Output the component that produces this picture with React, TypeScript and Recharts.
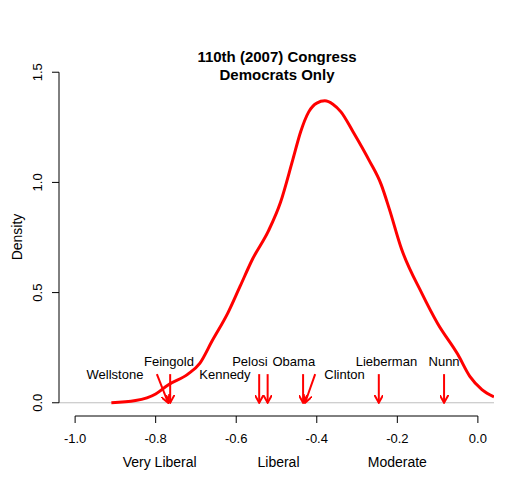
import {
  ComposedChart,
  Line,
  Scatter,
  XAxis,
  YAxis,
  ReferenceLine,
} from "recharts";

// kernel density of DW-NOMINATE scores
const curveX = [-0.91, -0.85, -0.8, -0.77, -0.72, -0.69, -0.66, -0.62, -0.59, -0.56, -0.52, -0.49, -0.46, -0.44, -0.42, -0.4, -0.38, -0.36, -0.34, -0.31, -0.27, -0.24, -0.22, -0.19, -0.14, -0.1, -0.05, -0.02, 0.01, 0.04];
const curveY = [0.0, 0.01, 0.04, 0.08, 0.13, 0.18, 0.28, 0.41, 0.53, 0.65, 0.78, 0.91, 1.1, 1.23, 1.32, 1.36, 1.37, 1.355, 1.32, 1.23, 1.1, 0.99, 0.88, 0.7, 0.5, 0.36, 0.22, 0.12, 0.06, 0.027];

// senators: label position and arrow (tail -> tip)
const names = ["Wellstone", "Feingold", "Kennedy", "Pelosi", "Obama", "Clinton", "Lieberman", "Nunn"];
const labelX = [-0.901, -0.767, -0.628, -0.566, -0.457, -0.331, -0.227, -0.084];
const labelY = [0.13, 0.186, 0.13, 0.186, 0.186, 0.13, 0.186, 0.186];
const arrowFromX = [-0.797, -0.764, -0.543, -0.522, -0.434, -0.404, -0.246, -0.084];
const arrowToX = [-0.769, -0.764, -0.543, -0.522, -0.434, -0.429, -0.246, -0.084];
const arrowTop = 0.13;

const xTicks = [-1, -0.8, -0.6, -0.4, -0.2, 0];
const yTicks = [0, 0.5, 1, 1.5];
const scaleLabels = ["Very Liberal", "Liberal", "Moderate"];
const scaleLabelX = [-0.79, -0.495, -0.2];

const FONT = "'Liberation Sans', Arial, sans-serif";
const RED = "#ff0000";

const curve = curveX.map((x, i) => ({ x, y: curveY[i] }));
const labels = names.map((name, i) => ({ name, x: labelX[i], y: labelY[i] }));
const arrows = names.map((name, i) => [
  { x: arrowFromX[i], y: arrowTop },
  { x: arrowToX[i], y: 0 },
]);

const XTick = (props: any) => {
  const { x, y, payload } = props;
  return (
    <text x={x} y={y} dy={18} textAnchor="middle" fontSize={13} fontFamily={FONT} fill="#000">
      {payload.value.toFixed(1)}
    </text>
  );
};

const DescTick = (props: any) => {
  const { x, y, payload } = props;
  const i = scaleLabelX.indexOf(payload.value);
  return (
    <text x={x} y={y} dy={13} textAnchor="middle" fontSize={14} fontFamily={FONT} fill="#000">
      {scaleLabels[i]}
    </text>
  );
};

const YTick = (props: any) => {
  const { x, y, payload } = props;
  const tx = x - 12;
  return (
    <text
      x={tx}
      y={y}
      transform={`rotate(-90, ${tx}, ${y})`}
      textAnchor="middle"
      dominantBaseline="central"
      fontSize={13}
      fontFamily={FONT}
      fill="#000"
    >
      {payload.value.toFixed(1)}
    </text>
  );
};

const NameLabel = (props: any) => (
  <text
    x={props.cx}
    y={props.cy}
    textAnchor="middle"
    dominantBaseline="central"
    fontSize={13}
    fontFamily={FONT}
    fill="#000"
  >
    {props.payload.name}
  </text>
);

export default function App() {
  return (
    <div style={{ position: "absolute", left: 0, top: 0, width: 525, height: 489, background: "#fff" }}>
      <svg width={0} height={0} style={{ position: "absolute" }}>
        <defs>
          <marker
            id="arrowHead"
            viewBox="0 0 10 10"
            refX={9}
            refY={5}
            markerWidth={9}
            markerHeight={9}
            markerUnits="userSpaceOnUse"
            orient="auto"
          >
            <path d="M0,0 L9,5 L0,10" fill="none" stroke={RED} strokeWidth={2.2} />
          </marker>
        </defs>
      </svg>
      <ComposedChart width={525} height={489} margin={{ top: 59, right: 31, bottom: 13, left: 0 }}>
        <XAxis
          xAxisId={0}
          dataKey="x"
          type="number"
          domain={[-1.04, 0.04]}
          allowDataOverflow
          ticks={xTicks}
          tick={<XTick />}
          tickSize={7}
          tickLine={{ stroke: "#000" }}
          axisLine={false}
          height={30}
        />
        <XAxis
          xAxisId="desc"
          dataKey="x"
          type="number"
          domain={[-1.04, 0.04]}
          allowDataOverflow
          ticks={scaleLabelX}
          tick={<DescTick />}
          tickLine={false}
          axisLine={false}
          height={30}
        />
        <YAxis
          type="number"
          domain={[-0.06, 1.56]}
          allowDataOverflow
          ticks={yTicks}
          tick={<YTick />}
          tickSize={7}
          tickLine={{ stroke: "#000" }}
          axisLine={false}
          width={59}
        />
        <ReferenceLine y={0} stroke="#bebebe" strokeWidth={1} />
        <ReferenceLine
          segment={[{ x: -1, y: -0.06 }, { x: 0, y: -0.06 }]}
          stroke="#000"
          ifOverflow="visible"
        />
        <ReferenceLine
          segment={[{ x: -1.04, y: 0 }, { x: -1.04, y: 1.5 }]}
          stroke="#000"
          ifOverflow="visible"
        />
        <Line
          data={curve}
          dataKey="y"
          type="monotone"
          stroke={RED}
          strokeWidth={3}
          dot={false}
          activeDot={false}
          isAnimationActive={false}
        />
        {arrows.map((a, i) => (
          <Line
            key={names[i]}
            data={a}
            dataKey="y"
            type="linear"
            stroke={RED}
            strokeWidth={2}
            dot={false}
            activeDot={false}
            markerEnd="url(#arrowHead)"
            isAnimationActive={false}
          />
        ))}
        <Scatter data={labels} dataKey="y" shape={<NameLabel />} isAnimationActive={false} />
      </ComposedChart>
      <svg width={525} height={489} style={{ position: "absolute", left: 0, top: 0, pointerEvents: "none" }}>
        <text x={277} y={62} textAnchor="middle" fontSize={15} fontWeight="bold" fontFamily={FONT}>
          110th (2007) Congress
        </text>
        <text x={277} y={80} textAnchor="middle" fontSize={15} fontWeight="bold" fontFamily={FONT}>
          Democrats Only
        </text>
        <text
          x={17}
          y={237}
          transform="rotate(-90, 17, 237)"
          textAnchor="middle"
          dominantBaseline="central"
          fontSize={14}
          fontFamily={FONT}
        >
          Density
        </text>
      </svg>
    </div>
  );
}
